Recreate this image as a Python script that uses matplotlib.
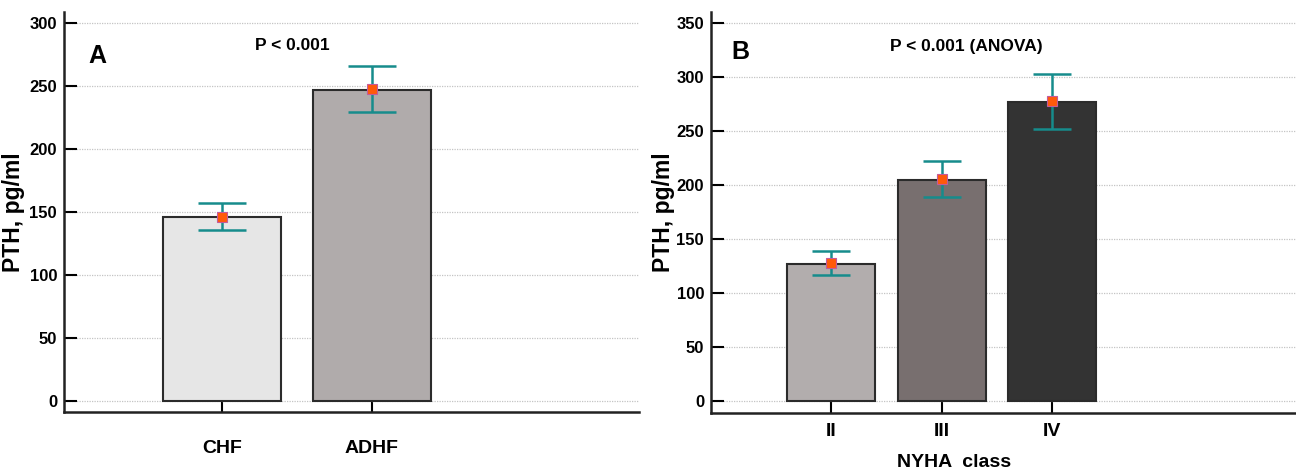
import matplotlib
matplotlib.use("Agg")
import matplotlib.pyplot as plt
from matplotlib import font_manager as fm
import numpy as np

# ---- data ----
cats_a = ["CHF", "ADHF"]
bars_a = [146, 247]
means_a = [146.3, 247.6]
lo_a = [135.7, 229.6]
hi_a = [157.4, 265.6]
colors_a = ["#e6e6e6", "#b0abab"]

cats_b = ["II", "III", "IV"]
bars_b = [127, 205, 276.5]
means_b = [127.5, 205.6, 277.2]
lo_b = [116.7, 188.6, 251.9]
hi_b = [139.2, 222.5, 302.8]
colors_b = ["#b2adad", "#786f6f", "#333333"]

yticks_a = [0, 50, 100, 150, 200, 250, 300]
yticks_b = [0, 50, 100, 150, 200, 250, 300, 350]

names = {f.name for f in fm.fontManager.ttflist}
narrow = "Liberation Sans Narrow" if "Liberation Sans Narrow" in names else "Liberation Sans"
wide = "Liberation Sans"
is_narrow = narrow != wide

fig = plt.figure(figsize=(12.96, 4.75), dpi=100)
ax_a = fig.add_axes([64/1296, 1-412/475, (639-64)/1296, 400/475])
ax_b = fig.add_axes([711/1296, 1-413/475, (1296-711)/1296, 401/475])

tick_fs = 13 if is_narrow else 12
cat_fs = 16 if is_narrow else 14
p_fs = 14.5 if is_narrow else 12.5

def draw(ax, cats, bars, means, lo, hi, colors, yticks, ylim, xlim, width, capsize, xpad):
    x = np.arange(len(cats))
    ax.bar(x, bars, width=width, color=colors, edgecolor="#2b2b2b", linewidth=1.5, zorder=2)
    yerr = [np.array(means) - np.array(lo), np.array(hi) - np.array(means)]
    ax.errorbar(x, means, yerr=yerr, fmt="none", ecolor="#168c8c", elinewidth=1.8,
                capsize=capsize, capthick=1.8, zorder=3)
    ax.plot(x, means, "s", color="#ff5a0a", markeredgecolor="#c45a9a",
            markeredgewidth=0.8, markersize=6.5, zorder=4, linestyle="none")
    ax.set_xlim(*xlim)
    ax.set_ylim(*ylim)
    ax.set_yticks(yticks)
    ax.set_xticks(x)
    ax.set_xticklabels(cats, fontfamily=narrow, fontweight="bold", fontsize=cat_fs)
    for lab in ax.get_yticklabels():
        lab.set_fontfamily(narrow)
        lab.set_fontweight("bold")
        lab.set_fontsize(tick_fs)
    ax.tick_params(axis="y", direction="in", length=9, width=1.5, pad=5)
    ax.tick_params(axis="x", direction="in", length=8, width=1.5, pad=xpad)
    ax.spines["top"].set_visible(False)
    ax.spines["right"].set_visible(False)
    ax.spines["left"].set_linewidth(1.8)
    ax.spines["bottom"].set_linewidth(1.8)
    ax.spines["left"].set_color("#222222")
    ax.spines["bottom"].set_color("#222222")
    ax.yaxis.grid(True, color="#c4c4c4", linewidth=0.9, linestyle=(0, (1, 1)), zorder=0)
    ax.set_axisbelow(True)
    ax.set_ylabel("PTH, pg/ml", fontfamily=wide, fontweight="bold", fontsize=16.5)

draw(ax_a, cats_a, bars_a, means_a, lo_a, hi_a, colors_a, yticks_a,
     (-8.7, 308.7), (-1.053, 2.78), 0.79, 17.5, 20)
draw(ax_b, cats_b, bars_b, means_b, lo_b, hi_b, colors_b, yticks_b,
     (-11, 360), (-1.09, 4.21), 0.795, 13.5, 7)

ax_a.yaxis.set_label_coords(-0.068, 0.5)
ax_b.yaxis.set_label_coords(-0.0615, 0.5)

ax_b.set_xlabel("NYHA  class", fontfamily=narrow, fontweight="bold", fontsize=cat_fs)
ax_b.xaxis.set_label_coords((954 - 711) / 585, -(454 - 413) / 401)

fig.text(88/1296, 1-56/475, "A", fontfamily=wide, fontweight="bold", fontsize=18,
         ha="left", va="center")
fig.text(292/1296, 1-45/475, "P < 0.001", fontfamily=narrow, fontweight="bold", fontsize=p_fs,
         ha="center", va="center")
fig.text(731/1296, 1-52/475, "B", fontfamily=wide, fontweight="bold", fontsize=18,
         ha="left", va="center")
fig.text(966/1296, 1-47/475, "P < 0.001 (ANOVA)", fontfamily=narrow, fontweight="bold", fontsize=p_fs,
         ha="center", va="center")

fig.savefig("out.png", dpi=100)
